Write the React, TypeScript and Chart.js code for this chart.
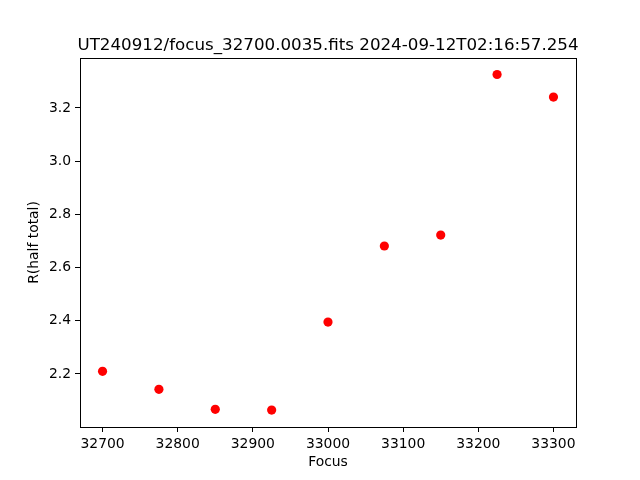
import React, { useEffect, useRef } from "react";
import { Chart, registerables } from "chart.js";

Chart.register(...registerables);

const titleText = "UT240912/focus_32700.0035.fits 2024-09-12T02:16:57.254";
const xLabel = "Focus";
const yLabel = "R(half total)";

const focusValues = [32700, 32775, 32850, 32925, 33000, 33075, 33150, 33225, 33300];
const radiusValues = [2.21, 2.142, 2.067, 2.064, 2.395, 2.681, 2.722, 3.326, 3.241];

const xTicks = [32700, 32800, 32900, 33000, 33100, 33200, 33300];
const yTicks = [2.2, 2.4, 2.6, 2.8, 3.0, 3.2];

const xMin = 32670;
const xMax = 33330;
const yMin = 2.0005;
const yMax = 3.388;

const FONT = "'DejaVu Sans', sans-serif";

export default function App() {
  const ref = useRef<HTMLCanvasElement | null>(null);

  useEffect(() => {
    if (!ref.current) return;
    const framePlugin = {
      id: "frame",
      afterDraw(chart: any) {
        const { ctx, chartArea } = chart;
        const { left, right, top, bottom } = chartArea;
        ctx.save();
        ctx.strokeStyle = "#000";
        ctx.lineWidth = 1;
        ctx.strokeRect(Math.round(left) + 0.5, Math.round(top) + 0.5, Math.round(right - left), Math.round(bottom - top));
        ctx.fillStyle = "#000";
        ctx.font = `16.7px ${FONT}`;
        ctx.textAlign = "center";
        ctx.textBaseline = "alphabetic";
        ctx.fillText(titleText, (left + right) / 2, top - 8);
        ctx.restore();
      },
    };

    const chart = new Chart(ref.current, {
      type: "scatter",
      data: {
        datasets: [
          {
            data: focusValues.map((x, i) => ({ x, y: radiusValues[i] })),
            backgroundColor: "#ff0000",
            borderColor: "#ff0000",
            borderWidth: 0,
            pointRadius: 4.6,
            pointHoverRadius: 4.6,
          },
        ],
      },
      options: {
        responsive: false,
        animation: false,
        layout: { padding: { left: 0, right: 64, top: 58, bottom: 0 } },
        plugins: {
          legend: { display: false },
          tooltip: { enabled: false },
          title: { display: false },
        },
        scales: {
          x: {
            type: "linear",
            min: xMin,
            max: xMax,
            afterBuildTicks: (scale: any) => {
              scale.ticks = xTicks.map((v) => ({ value: v }));
            },
            afterFit: (scale: any) => {
              scale.height = 53;
            },
            grid: {
              display: true,
              drawOnChartArea: false,
              drawTicks: true,
              tickLength: 5,
              tickColor: "#000",
              color: "#000",
            },
            border: { display: false },
            ticks: {
              color: "#000",
              font: { family: FONT, size: 13.9 },
              padding: 4,
              maxRotation: 0,
              autoSkip: false,
              callback: (v: any) => String(v),
            },
            title: {
              display: true,
              text: xLabel,
              color: "#000",
              font: { family: FONT, size: 13.9 },
              padding: { top: 0, bottom: 9.5 },
            },
          },
          y: {
            type: "linear",
            min: yMin,
            max: yMax,
            afterBuildTicks: (scale: any) => {
              scale.ticks = yTicks.map((v) => ({ value: v }));
            },
            afterFit: (scale: any) => {
              scale.width = 80;
            },
            grid: {
              display: true,
              drawOnChartArea: false,
              drawTicks: true,
              tickLength: 5,
              tickColor: "#000",
              color: "#000",
            },
            border: { display: false },
            ticks: {
              color: "#000",
              font: { family: FONT, size: 13.9 },
              padding: 4,
              autoSkip: false,
              callback: (v: any) => Number(v).toFixed(1),
            },
            title: {
              display: true,
              text: yLabel,
              color: "#000",
              font: { family: FONT, size: 13.9 },
              padding: { top: 26.5, bottom: 0 },
            },
          },
        },
      },
      plugins: [framePlugin],
    });
    return () => chart.destroy();
  }, []);

  return (
    <div style={{ position: "fixed", left: 0, top: 0, width: 640, height: 480, background: "#fff" }}>
      <canvas ref={ref} width={640} height={480} style={{ width: 640, height: 480 }} />
    </div>
  );
}
